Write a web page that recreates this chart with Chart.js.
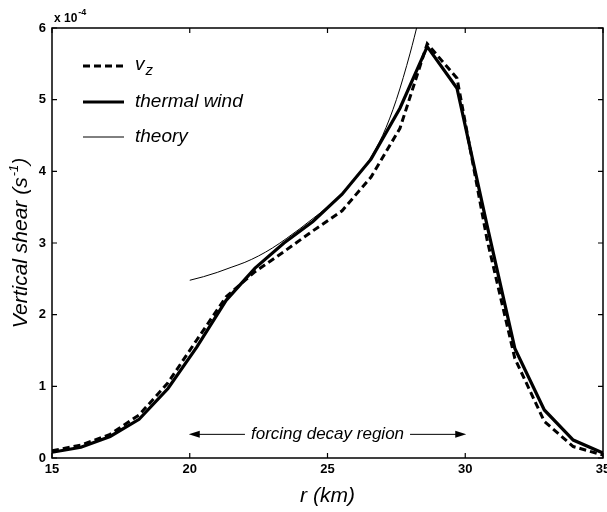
<!DOCTYPE html>
<html>
<head>
<meta charset="utf-8">
<script src="https://cdn.jsdelivr.net/npm/chart.js@4/dist/chart.umd.min.js"></script>
<style>
html,body{margin:0;padding:0;background:#fff;}
#wrap{width:607px;height:512px;position:relative;}
</style>
</head>
<body>
<div id="wrap"><canvas id="c" width="607" height="512"></canvas></div>
<script>
// radius (km)
const radius = [15, 16.05, 17.11, 18.16, 19.21, 20.26, 21.32, 22.37, 23.42, 24.47, 25.53, 26.58, 27.63, 28.62, 29.7, 30.79, 31.8, 32.87, 33.92, 35];
// vertical shear, units of 1e-4 s^-1
const vz          = [0.10, 0.18, 0.33, 0.60, 1.05, 1.65, 2.25, 2.60, 2.88, 3.17, 3.45, 3.92, 4.60, 5.78, 5.30, 3.05, 1.39, 0.51, 0.16, 0.04];
const thermalWind = [0.08, 0.15, 0.30, 0.54, 0.97, 1.55, 2.20, 2.65, 3.00, 3.30, 3.68, 4.17, 4.88, 5.74, 5.16, 3.25, 1.53, 0.67, 0.25, 0.07];
// theory curve
const theoryR = [20, 20.5, 21, 21.5, 22, 22.5, 23, 23.5, 24, 24.5, 25, 25.5, 26, 26.5, 27, 27.5, 28, 28.3];
const theoryV = [2.48, 2.53, 2.59, 2.66, 2.73, 2.82, 2.93, 3.06, 3.20, 3.35, 3.50, 3.68, 3.90, 4.15, 4.50, 5.00, 5.65, 6.10];
// tick labels
const xTicks = [15, 20, 25, 30, 35];
const yTicks = [0, 1, 2, 3, 4, 5, 6];
const seriesNames = ['v', 'thermal wind', 'theory'];
const annotationText = 'forcing decay region';
const annotationRange = [20, 30];
const annotationLevel = 0.33;

const pts = (xs, ys) => xs.map((x, i) => ({x: x, y: ys[i]}));

const FONT = '"Liberation Sans", Arial, Helvetica, sans-serif';

const decor = {
  id: 'decor',
  afterDraw(chart) {
    const ctx = chart.ctx;
    const a = chart.chartArea;
    const xs = chart.scales.x, ys = chart.scales.y;
    ctx.save();
    // frame
    ctx.strokeStyle = '#000';
    ctx.lineWidth = 1.5;
    ctx.strokeRect(a.left, a.top, a.right - a.left, a.bottom - a.top);
    // inward ticks
    ctx.lineWidth = 1.2;
    const tl = 5;
    ctx.beginPath();
    xTicks.forEach(v => {
      const px = xs.getPixelForValue(v);
      ctx.moveTo(px, a.bottom); ctx.lineTo(px, a.bottom - tl);
      ctx.moveTo(px, a.top); ctx.lineTo(px, a.top + tl);
    });
    yTicks.forEach(v => {
      const py = ys.getPixelForValue(v);
      ctx.moveTo(a.left, py); ctx.lineTo(a.left + tl, py);
      ctx.moveTo(a.right, py); ctx.lineTo(a.right - tl, py);
    });
    ctx.stroke();

    ctx.fillStyle = '#000';
    // exponent label
    ctx.textBaseline = 'alphabetic';
    ctx.textAlign = 'left';
    ctx.font = 'bold 12px ' + FONT;
    ctx.fillText('x 10', a.left + 2, a.top - 6);
    const w10 = ctx.measureText('x 10').width;
    ctx.font = 'bold 9px ' + FONT;
    ctx.fillText('-4', a.left + 2 + w10 + 1, a.top - 13);

    // x title
    ctx.font = 'italic 21px ' + FONT;
    ctx.textAlign = 'center';
    ctx.fillText('r (km)', (a.left + a.right) / 2, 502);

    // y title (rotated)
    ctx.save();
    ctx.translate(27, (a.top + a.bottom) / 2);
    ctx.rotate(-Math.PI / 2);
    ctx.textAlign = 'left';
    const p1 = 'Vertical shear (s', p2 = '-1', p3 = ')';
    ctx.font = 'italic 21px ' + FONT;
    const w1 = ctx.measureText(p1).width, w3 = ctx.measureText(p3).width;
    ctx.font = 'italic 13px ' + FONT;
    const w2 = ctx.measureText(p2).width;
    let sx = -(w1 + w2 + w3 + 1) / 2;
    ctx.font = 'italic 21px ' + FONT;
    ctx.fillText(p1, sx, 0);
    ctx.font = 'italic 13px ' + FONT;
    ctx.fillText(p2, sx + w1 + 1, -9);
    ctx.font = 'italic 21px ' + FONT;
    ctx.fillText(p3, sx + w1 + w2 + 1, 0);
    ctx.restore();

    // legend
    const lx0 = 83, lx1 = 124, tx = 135;
    const rows = [66, 102, 137];
    const styles = [{w: 3, d: [7, 4]}, {w: 3.2, d: []}, {w: 1, d: []}];
    rows.forEach((yy, i) => {
      ctx.beginPath();
      ctx.lineWidth = styles[i].w;
      ctx.setLineDash(styles[i].d);
      ctx.moveTo(lx0, yy); ctx.lineTo(lx1, yy);
      ctx.stroke();
    });
    ctx.setLineDash([]);
    ctx.textAlign = 'left';
    ctx.textBaseline = 'middle';
    ctx.font = 'italic 19px ' + FONT;
    ctx.fillText(seriesNames[0], tx, rows[0] - 1);
    const wv = ctx.measureText(seriesNames[0]).width;
    ctx.font = 'italic 15px ' + FONT;
    ctx.fillText('z', tx + wv + 1, rows[0] + 5);
    ctx.font = 'italic 19px ' + FONT;
    ctx.fillText(seriesNames[1], tx, rows[1]);
    ctx.fillText(seriesNames[2], tx, rows[2]);

    // annotation with arrows
    const ay = ys.getPixelForValue(annotationLevel);
    const axL = xs.getPixelForValue(annotationRange[0]);
    const axR = xs.getPixelForValue(annotationRange[1]);
    const cx = (axL + axR) / 2;
    ctx.font = 'italic 17px ' + FONT;
    ctx.textAlign = 'center';
    ctx.textBaseline = 'middle';
    ctx.fillText(annotationText, cx, ay);
    const tw = ctx.measureText(annotationText).width;
    ctx.lineWidth = 1;
    ctx.beginPath();
    ctx.moveTo(cx - tw / 2 - 6, ay); ctx.lineTo(axL + 6, ay);
    ctx.moveTo(cx + tw / 2 + 6, ay); ctx.lineTo(axR - 6, ay);
    ctx.stroke();
    ctx.beginPath();
    ctx.moveTo(axL - 1, ay); ctx.lineTo(axL + 10, ay - 3.5); ctx.lineTo(axL + 10, ay + 3.5); ctx.closePath();
    ctx.moveTo(axR + 1, ay); ctx.lineTo(axR - 10, ay - 3.5); ctx.lineTo(axR - 10, ay + 3.5); ctx.closePath();
    ctx.fill();
    ctx.restore();
  }
};

new Chart(document.getElementById('c'), {
  type: 'line',
  data: {
    datasets: [
      {label: 'vz', data: pts(radius, vz), borderColor: '#000', borderWidth: 3, borderDash: [7, 4], pointRadius: 0, tension: 0, fill: false},
      {label: 'thermal wind', data: pts(radius, thermalWind), borderColor: '#000', borderWidth: 3.2, pointRadius: 0, tension: 0, fill: false},
      {label: 'theory', data: pts(theoryR, theoryV), borderColor: '#000', borderWidth: 1, pointRadius: 0, cubicInterpolationMode: 'monotone', fill: false}
    ]
  },
  options: {
    responsive: false,
    animation: false,
    devicePixelRatio: 1,
    layout: {padding: {left: 0, right: 4, top: 28, bottom: 0}},
    plugins: {legend: {display: false}, tooltip: {enabled: false}},
    scales: {
      x: {
        type: 'linear', min: 15, max: 35,
        afterBuildTicks: s => { s.ticks = xTicks.map(v => ({value: v})); },
        ticks: {color: '#000', font: {family: FONT, size: 13, weight: 'bold'}, padding: 4, maxRotation: 0, autoSkip: false},
        grid: {display: false, drawTicks: false},
        border: {display: false},
        afterFit: s => { s.height = 54; s.paddingLeft = 0; s.paddingRight = 0; }
      },
      y: {
        type: 'linear', min: 0, max: 6,
        afterBuildTicks: s => { s.ticks = yTicks.map(v => ({value: v})); },
        ticks: {color: '#000', font: {family: FONT, size: 13, weight: 'bold'}, padding: 6, autoSkip: false},
        grid: {display: false, drawTicks: false},
        border: {display: false},
        afterFit: s => { s.width = 52; s.paddingTop = 0; s.paddingBottom = 0; }
      }
    }
  },
  plugins: [decor]
});
</script>
</body>
</html>
